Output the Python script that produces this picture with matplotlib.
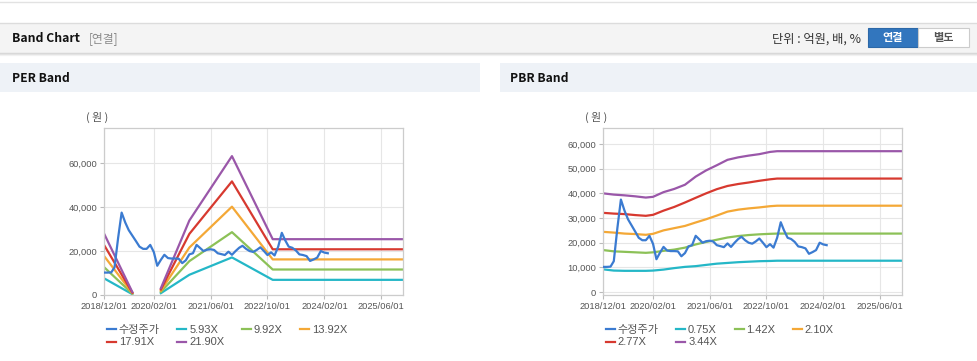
import numpy as np
import pandas as pd
import matplotlib
matplotlib.use('Agg')
import matplotlib.pyplot as plt
from matplotlib.patches import Rectangle
from matplotlib.lines import Line2D

plt.rcParams['font.family'] = ['Liberation Sans', 'Noto Sans CJK KR']

W, H = 978, 361

# ------------------------
# Data
# adjusted price (수정주가), one value per month starting 2018/12
price = [10200, 10200, 10300, 12500, 26000, 37500, 33000, 29500, 27000, 24500,
         22000, 21000, 21000, 22800, 19500, 13300, 16000, 18300, 16800, 16600,
         16600, 16500, 14500, 15800, 18500, 19000, 22800, 21500, 20000, 20600,
         20800, 20500, 19000, 18600, 18200, 19700, 18300, 20000, 21500, 22400,
         21000, 20000, 19600, 20500, 21700, 20000, 18200, 19400, 18000, 22000,
         28300, 25000, 22000, 21500, 20300, 18500, 18200, 17700, 15500, 16200,
         17000, 20000, 19300, 19000]

# PER band (nan = negative earnings, no band drawn)
per_dates = ['2018-12-01', '2019-08-01', '2019-12-01', '2020-04-01', '2020-12-01',
             '2021-12-01', '2022-11-15', '2025-12-01']
per_labels = ['5.93X', '9.92X', '13.92X', '17.91X', '21.90X']
per_values = [
    [7600, 360, np.nan, 830, 9200, 17100, 6900, 6900],
    [12700, 600, np.nan, 1390, 15400, 28600, 11600, 11600],
    [17800, 840, np.nan, 1950, 21600, 40200, 16200, 16200],
    [22800, 1070, np.nan, 2510, 27800, 51700, 20800, 20800],
    [28000, 1310, np.nan, 3070, 33900, 63200, 25400, 25400],
]

# PBR band
pbr_dates = ['2018-12-01', '2019-03-01', '2019-06-01', '2019-09-01', '2019-12-01',
             '2020-02-01', '2020-05-01', '2020-08-01', '2020-11-01', '2021-02-01',
             '2021-05-01', '2021-08-01', '2021-11-01', '2022-02-01', '2022-05-01',
             '2022-08-01', '2022-11-01', '2023-01-01', '2025-12-01']
pbr_labels = ['0.75X', '1.42X', '2.10X', '2.77X', '3.44X']
pbr_values = [
    [9200, 8700, 8600, 8600, 8600, 8700, 9100, 9700, 10200, 10500,
     11000, 11500, 11800, 12100, 12300, 12500, 12600, 12700, 12700],
    [17000, 16500, 16300, 16100, 15900, 16100, 16700, 17200, 18000, 19300,
     20300, 21200, 22100, 22700, 23100, 23400, 23600, 23700, 23700],
    [24400, 24100, 23700, 23500, 23200, 23600, 25000, 25900, 26800, 28200,
     29500, 31000, 32600, 33400, 33900, 34300, 34800, 35000, 35000],
    [32100, 31800, 31600, 31200, 30900, 31300, 33000, 34500, 36300, 38200,
     40000, 41700, 43000, 43800, 44400, 45100, 45700, 46000, 46000],
    [40000, 39500, 39200, 38800, 38300, 38600, 40500, 41800, 43500, 46800,
     49300, 51400, 53600, 54600, 55300, 55900, 56800, 57100, 57100],
]

x_ticks = ['2018-12-01', '2020-02-01', '2021-06-01', '2022-10-01', '2024-02-01', '2025-06-01']
x_tick_labels = ['2018/12/01', '2020/02/01', '2021/06/01', '2022/10/01', '2024/02/01', '2025/06/01']

price_color = '#3b7bd1'
band_colors = ['#24b7c7', '#8cc157', '#f4a836', '#d7392f', '#9a57a9']


def fx(px):
    return px / W


def fy(py):
    return 1 - py / H


fig = plt.figure(figsize=(W / 100, H / 100), dpi=100)

# ------------------------
# page decorations (header bar and panel titles)
fig.add_artist(Line2D([0, 1], [fy(1.5), fy(1.5)], color='#e2e2e2', lw=1))
fig.add_artist(Rectangle((0, fy(52.7)), 1, 30 / H, color='#f4f4f4', lw=0))
fig.add_artist(Line2D([0, 1], [fy(22.5), fy(22.5)], color='#dcdcdc', lw=1))
for i, a in enumerate([0.35, 0.2, 0.1]):
    yy = fy(53 + i)
    fig.add_artist(Line2D([0, 1], [yy, yy], color='#999999', alpha=a, lw=1))

fig.text(fx(12), fy(39), 'Band Chart', fontsize=8.8, fontweight='bold', color='#111', va='center',
         family=['Noto Sans CJK KR'])
fig.text(fx(89), fy(39), '[연결]', fontsize=8.5, color='#8a8a8a', va='center',
         family=['Noto Sans CJK KR'])
fig.text(fx(861), fy(39), '단위 : 억원, 배, %', fontsize=8.8, color='#333', va='center', ha='right',
         family=['Noto Sans CJK KR'])
fig.add_artist(Rectangle((fx(868), fy(47.3)), 50 / W, 19 / H, facecolor='#3276be', edgecolor='#2c68a8', lw=0.8))
fig.add_artist(Rectangle((fx(918), fy(47.3)), 51 / W, 19 / H, facecolor='white', edgecolor='#cccccc', lw=0.8))
fig.text(fx(893), fy(38), '연결', fontsize=8, fontweight='bold', color='white', ha='center', va='center',
         family=['Noto Sans CJK KR'])
fig.text(fx(943.5), fy(38), '별도', fontsize=8, fontweight='bold', color='#555', ha='center', va='center',
         family=['Noto Sans CJK KR'])

fig.add_artist(Rectangle((0, fy(91.7)), 480 / W, 28.4 / H, color='#eef2f7', lw=0))
fig.add_artist(Rectangle((fx(500), fy(91.7)), 478 / W, 28.4 / H, color='#eef2f7', lw=0))
fig.text(fx(12), fy(78), 'PER Band', fontsize=8.7, fontweight='bold', color='#111', va='center',
         family=['Noto Sans CJK KR'])
fig.text(fx(510), fy(78), 'PBR Band', fontsize=8.7, fontweight='bold', color='#111', va='center',
         family=['Noto Sans CJK KR'])


# ------------------------
def draw_panel(left_px, right_px, dates, labels, values, ylim, yticks, legend_x):
    ax = fig.add_axes([fx(left_px), fy(295), (right_px - left_px) / W, (295 - 128) / H])
    d = pd.to_datetime(dates)
    handles = []
    for lab, vals, c in zip(labels, values, band_colors):
        ln, = ax.plot(d, vals, color=c, lw=1.6, label=lab, zorder=2)
        handles.append(ln)
    pd_dates = pd.date_range('2018-12-01', periods=len(price), freq='MS')
    pl, = ax.plot(pd_dates, price, color=price_color, lw=1.6, label='수정주가', zorder=3)
    handles = [pl] + handles

    ax.set_xlim(pd.Timestamp('2018-12-01'), pd.Timestamp('2025-12-05'))
    ax.set_ylim(*ylim)
    ax.set_xticks(pd.to_datetime(x_ticks))
    ax.set_xticklabels(x_tick_labels)
    ax.set_yticks(yticks)
    ax.set_yticklabels([f'{v:,}' for v in yticks])
    ax.tick_params(labelsize=6.7, colors='#bbbbbb', labelcolor='#555555', length=3, width=0.8, pad=2)
    ax.grid(True, color='#e6e6e6', lw=0.8)
    ax.set_axisbelow(True)
    for s in ax.spines.values():
        s.set_color('#cccccc')
        s.set_linewidth(0.9)

    fig.text(fx(left_px - 18), fy(117), '( 원 )', fontsize=7.8, color='#555', va='center',
             family=['Noto Sans CJK KR'])

    order = [0, 4, 1, 5, 2, 3]
    fig.legend([handles[i] for i in order], [handles[i].get_label() for i in order],
               loc='upper left', bbox_to_anchor=(fx(legend_x), fy(325)), ncol=4, frameon=False,
               fontsize=8, handlelength=0.8, handletextpad=0.25, columnspacing=1.6,
               borderpad=0, borderaxespad=0, labelspacing=0.22, labelcolor='#555555')
    return ax


draw_panel(104, 403, per_dates, per_labels, per_values, (0, 76000),
           [0, 20000, 40000, 60000], 107)
draw_panel(603.3, 901.7, pbr_dates, pbr_labels, pbr_values, (-1200, 66500),
           [0, 10000, 20000, 30000, 40000, 50000, 60000], 606)

plt.savefig('out.png', dpi=100)
